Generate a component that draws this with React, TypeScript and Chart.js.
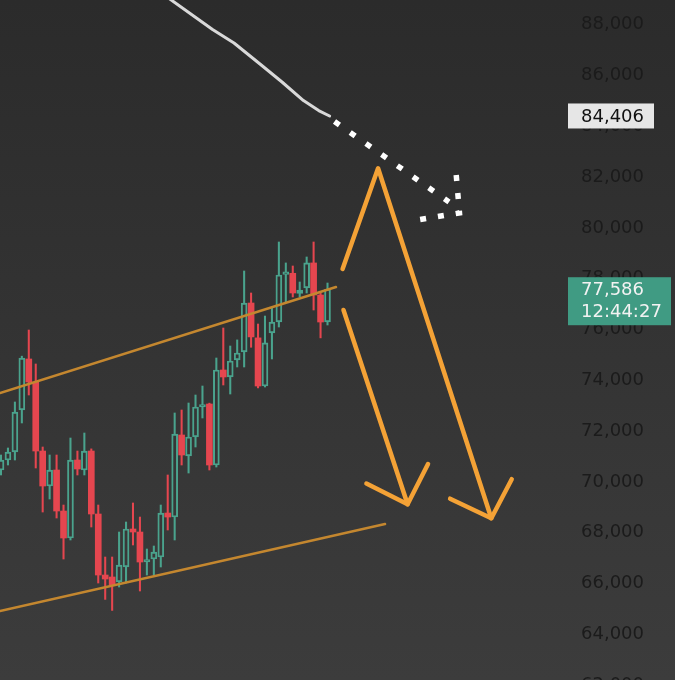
import React, { useEffect, useRef } from 'react';
import { Chart, registerables } from 'chart.js';

Chart.register(...registerables);

// ---- Candles (one per bar slot) ----
const opens = [70468, 70862, 71177, 72831, 74839, 73933, 71216, 69838, 70468, 68854, 67791, 70862, 70468, 71216, 68736, 66334, 66256, 66060, 66650, 68146, 68027, 66846, 66964, 67043, 68775, 68617, 71847, 71020, 71768, 72950, 73067, 70665, 74406, 74130, 74800, 75114, 77043, 75670, 73775, 75866, 76295, 78170, 78213, 77424, 77634, 78620, 77358, 76295];
const highs = [71059, 71335, 73146, 74950, 75980, 74642, 71374, 71059, 71059, 69090, 71728, 71216, 71925, 71300, 69090, 67043, 67043, 68027, 68421, 69170, 68617, 67358, 67476, 69090, 70272, 72713, 72831, 73106, 73421, 73775, 73100, 74878, 76059, 75350, 75590, 78303, 77437, 76216, 76530, 76845, 79445, 78620, 78500, 77870, 78855, 79445, 77437, 77830];
const lows = [70272, 70665, 70862, 72320, 73421, 70547, 68814, 69326, 68578, 66964, 67713, 70272, 70272, 68224, 66019, 65374, 64940, 65862, 66020, 67516, 65705, 66334, 66334, 66650, 68106, 67713, 70665, 70350, 71374, 72516, 70468, 70586, 73815, 73460, 74524, 74524, 75300, 73700, 73736, 74839, 76098, 77080, 77280, 77280, 77437, 76767, 75670, 76177];
const closes = [70862, 71177, 72752, 74878, 73933, 71216, 69838, 70468, 68854, 67791, 70862, 70508, 71216, 68736, 66334, 66177, 65941, 66728, 68146, 68027, 66846, 66925, 67240, 68775, 68617, 71886, 71059, 71768, 72950, 73030, 70665, 74406, 74130, 74760, 75075, 77043, 75708, 73775, 75472, 76295, 78146, 78260, 77437, 77555, 78620, 77358, 76295, 77586];

// ---- Axis ----
const yTicks = [62000, 64000, 66000, 68000, 70000, 72000, 74000, 76000, 78000, 80000, 82000, 84000, 86000, 88000];
const yMin = 62201;
const yMax = 88972;
const xMin = -0.144;
const xMax = 81.62;

// ---- Drawings (x in bar slots, y in price) ----
const upperChannelX = [-0.144, 48.22];
const upperChannelY = [73500, 77673];
const lowerChannelX = [-0.144, 55.28];
const lowerChannelY = [64917, 68343];
const arrow1X = [49.17, 54.28, 70.58];
const arrow1Y = [78386, 82347, 68571];
const arrow1HeadX = [64.65, 70.58, 73.52];
const arrow1HeadY = [69339, 68571, 70106];
const arrow2X = [49.3, 58.53];
const arrow2Y = [76768, 69118];
const arrow2HeadX = [52.6, 58.53, 61.47];
const arrow2HeadY = [69937, 69118, 70705];
const whiteLineX = [23.9, 27.93, 30.45, 33.54, 37.28, 40.45, 43.54, 45.73, 47.3];
const whiteLineY = [89090, 88303, 87811, 87280, 86453, 85744, 85012, 84618, 84406];
const dottedX = [48.01, 64.49];
const dottedY = [84189, 81020];
const dottedHeadX = [65.53, 66.0, 59.88];
const dottedHeadY = [82083, 80587, 80311];

// ---- Price tags ----
const lineTagValue = 84406;
const lastPrice = 77586;
const countdown = '12:44:27';

const RED = '#e5464f';
const GREEN = '#4aa38d';
const FONT = '"DejaVu Sans", sans-serif';

const pts = (xs: number[], ys: number[]) => xs.map((x, i) => ({ x, y: ys[i] }));
const fmt = (v: number) => v.toLocaleString('en-US');

export default function App() {
  const ref = useRef<HTMLCanvasElement | null>(null);

  useEffect(() => {
    if (!ref.current) return;
    const idx = opens.map((_, i) => i);
    const isUp = idx.map((i) => closes[i] >= opens[i]);
    const redBodies = idx.filter((i) => !isUp[i]).map((i) => ({ x: i, y: [opens[i], closes[i]] }));
    const greenBodies = idx.filter((i) => isUp[i]).map((i) => ({ x: i, y: [opens[i], closes[i]] }));
    const upperWicks = idx.map((i) => ({ x: i, y: [Math.max(opens[i], closes[i]), highs[i]] }));
    const lowerWicks = idx.map((i) => ({ x: i, y: [lows[i], Math.min(opens[i], closes[i])] }));
    const wickColors = idx.map((i) => (isUp[i] ? GREEN : RED));

    const lineDs = (data: any, color: string, width: number, extra: any = {}) => ({
      type: 'line',
      data,
      borderColor: color,
      borderWidth: width,
      pointRadius: 0,
      tension: 0,
      fill: false,
      borderCapStyle: 'round',
      borderJoinStyle: 'round',
      order: 0,
      clip: false,
      ...extra,
    });

    const tagsPlugin = {
      id: 'tags',
      afterDraw(chart: any) {
        const ctx = chart.ctx;
        const ys = chart.scales.y;
        const left = chart.chartArea.right;
        ctx.save();
        // line value tag
        const p1 = ys.getPixelForValue(lineTagValue);
        ctx.fillStyle = '#e6e6e6';
        ctx.fillRect(left, p1 - 12.5, 86, 25);
        ctx.fillStyle = '#111111';
        ctx.font = `18px ${FONT}`;
        ctx.textBaseline = 'middle';
        ctx.textAlign = 'left';
        ctx.fillText(fmt(lineTagValue), left + 13, p1 + 1);
        // last price tag
        const p2 = ys.getPixelForValue(lastPrice);
        ctx.fillStyle = '#409b83';
        ctx.fillRect(left, p2 - 12, 103, 48);
        ctx.fillStyle = '#f2f2f2';
        ctx.fillText(fmt(lastPrice), left + 13, p2 + 1);
        ctx.fillText(countdown, left + 13, p2 + 23);
        ctx.restore();
      },
    };

    const chart = new Chart(ref.current, {
      type: 'bar',
      data: {
        datasets: [
          lineDs(pts(upperChannelX, upperChannelY), '#c4872f', 2.5),
          lineDs(pts(lowerChannelX, lowerChannelY), '#c4872f', 2.5),
          lineDs(pts(arrow1X, arrow1Y), '#f4a236', 4.5),
          lineDs(pts(arrow1HeadX, arrow1HeadY), '#f4a236', 4.5),
          lineDs(pts(arrow2X, arrow2Y), '#f4a236', 4.5),
          lineDs(pts(arrow2HeadX, arrow2HeadY), '#f4a236', 4.5),
          lineDs(pts(whiteLineX, whiteLineY), '#d9d9d9', 3),
          lineDs(pts(dottedX, dottedY), '#ffffff', 5.5, { borderDash: [6, 13.2], borderCapStyle: 'butt', borderJoinStyle: 'miter' }),
          lineDs(pts(dottedHeadX, dottedHeadY), '#ffffff', 5.5, { borderDash: [6, 12], borderCapStyle: 'butt', borderJoinStyle: 'miter' }),
          {
            type: 'bar',
            data: upperWicks,
            backgroundColor: wickColors,
            barThickness: 1.4,
            grouped: false,
            order: 2,
          },
          {
            type: 'bar',
            data: lowerWicks,
            backgroundColor: wickColors,
            barThickness: 1.4,
            grouped: false,
            order: 2,
          },
          {
            type: 'bar',
            data: redBodies,
            backgroundColor: RED,
            borderWidth: 0,
            barThickness: 6,
            grouped: false,
            minBarLength: 2,
            order: 1,
          },
          {
            type: 'bar',
            data: greenBodies,
            backgroundColor: 'rgba(0,0,0,0)',
            borderColor: GREEN,
            borderWidth: 1.3,
            borderSkipped: false,
            barThickness: 6,
            grouped: false,
            minBarLength: 2.5,
            order: 1,
          },
        ] as any,
      },
      options: {
        responsive: false,
        maintainAspectRatio: false,
        animation: false,
        layout: { padding: 0 },
        plugins: { legend: { display: false }, tooltip: { enabled: false } },
        scales: {
          x: {
            type: 'linear',
            display: false,
            min: xMin,
            max: xMax,
            offset: false,
          },
          y: {
            position: 'right',
            min: yMin,
            max: yMax,
            grid: { display: false, drawTicks: false },
            border: { display: false },
            ticks: {
              autoSkip: false,
              padding: 13,
              color: '#1b1b1b',
              font: { family: FONT, size: 18 },
              callback: (v: any) => fmt(Number(v)),
            },
            afterBuildTicks: (s: any) => {
              s.ticks = yTicks.map((v) => ({ value: v }));
            },
            afterFit: (s: any) => {
              s.width = 107;
              s.paddingTop = 0;
              s.paddingBottom = 0;
            },
          },
        },
      } as any,
      plugins: [tagsPlugin],
    });
    return () => chart.destroy();
  }, []);

  return (
    <div
      style={{
        position: 'fixed',
        left: 0,
        top: 0,
        width: 675,
        height: 680,
        background: 'linear-gradient(#2b2b2b, #3c3c3c)',
      }}
    >
      <canvas ref={ref} width={675} height={680} style={{ display: 'block' }} />
    </div>
  );
}
